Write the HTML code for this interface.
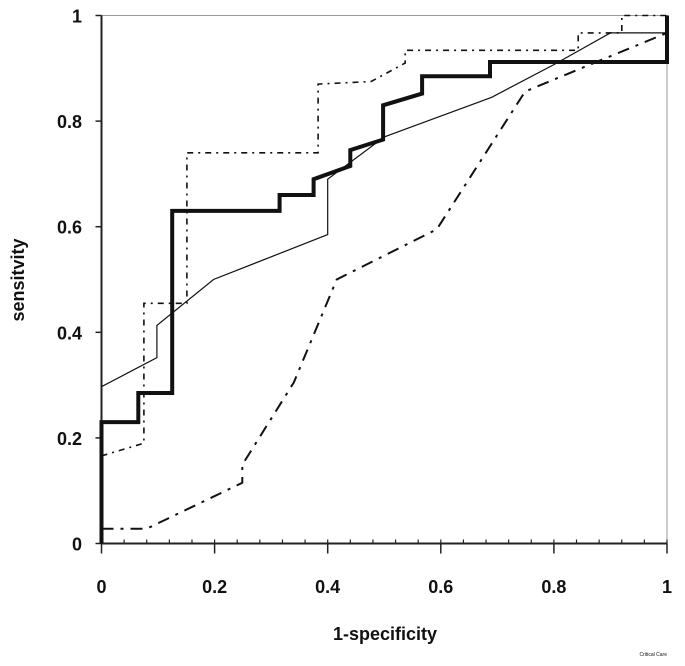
<!DOCTYPE html>
<html><head><meta charset="utf-8"><style>
body{margin:0;background:#fff;}
svg text{font-family:"Liberation Sans",Arial,sans-serif;font-weight:bold;fill:#111;}
</style></head><body>
<svg id="chart" width="685" height="661" viewBox="0 0 685 661" xmlns="http://www.w3.org/2000/svg">
<g id="axes"></g>
<g id="series"></g>
<text x="0" y="0" font-size="18" text-anchor="middle" transform="translate(24,280) rotate(-90)">sensitvity</text>
<text x="385" y="640" font-size="18" text-anchor="middle">1-specificity</text>
<text x="667" y="656" font-size="5" text-anchor="end" style="font-weight:normal">Critical Care</text>
</svg>
<script>
const ticks = [0, 0.2, 0.4, 0.6, 0.8, 1];
const tickLabels = ["0", "0.2", "0.4", "0.6", "0.8", "1"];
const thickX = [0, 0, 0.065, 0.065, 0.125, 0.125, 0.315, 0.315, 0.375, 0.375, 0.44, 0.44, 0.498, 0.498, 0.567, 0.567, 0.687, 0.687, 1, 1];
const thickY = [0, 0.23, 0.23, 0.285, 0.285, 0.63, 0.63, 0.66, 0.66, 0.69, 0.715, 0.745, 0.765, 0.83, 0.852, 0.885, 0.885, 0.912, 0.912, 1];
const thinX = [0, 0.098, 0.098, 0.198, 0.4, 0.4, 0.5, 0.69, 0.8, 0.9, 1, 1];
const thinY = [0.297, 0.352, 0.413, 0.5, 0.585, 0.69, 0.77, 0.845, 0.907, 0.967, 0.967, 1];
const dotX = [0, 0.075, 0.075, 0.151, 0.151, 0.383, 0.383, 0.477, 0.537, 0.537, 0.843, 0.843, 0.92, 0.92, 1];
const dotY = [0.166, 0.19, 0.455, 0.455, 0.74, 0.74, 0.87, 0.875, 0.91, 0.934, 0.934, 0.967, 0.967, 1, 1];
const dashX = [0, 0.08, 0.249, 0.249, 0.34, 0.416, 0.593, 0.749, 0.864, 1];
const dashY = [0.028, 0.028, 0.115, 0.149, 0.305, 0.5, 0.595, 0.856, 0.907, 0.967];

const X0 = 101.5, X1 = 667, Y0 = 543.5, Y1 = 15.5;
const sx = v => X0 + v * (X1 - X0);
const sy = v => Y0 - v * (Y0 - Y1);
const NS = "http://www.w3.org/2000/svg";
const axes = document.getElementById('axes');
const series = document.getElementById('series');
function mk(tag, attrs, parent) {
  const e = document.createElementNS(NS, tag);
  for (const k in attrs) e.setAttribute(k, attrs[k]);
  parent.appendChild(e);
  return e;
}
const frame = mk('rect', {x: X0, y: Y1, width: X1 - X0, height: Y0 - Y1, fill: 'none', stroke: '#999', 'stroke-width': 1}, axes);


const xa = mk('line', {x1: X0, y1: Y0, x2: X1, y2: Y0, stroke: '#222', 'stroke-width': 2}, axes);


const ya = mk('line', {x1: X0, y1: Y0, x2: X0, y2: Y1, stroke: '#222', 'stroke-width': 2}, axes);


for (let i = 0; i <= 25; i++) {
  const v = i * 0.04;
  const t = mk('line', {x1: sx(v), y1: Y0 - 4, x2: sx(v), y2: Y0, stroke: '#222', 'stroke-width': 1.2}, axes);
  
  
}
ticks.forEach((v, i) => {
  const t = mk('line', {x1: sx(v), y1: Y0, x2: sx(v), y2: Y0 + 10, stroke: '#222', 'stroke-width': 1.5}, axes);
  
  
  const l = mk('text', {x: sx(v), y: 593, 'font-size': 18, 'text-anchor': 'middle'}, axes);
  l.textContent = tickLabels[i];
  
  
  const t2 = mk('line', {x1: X0 - 6, y1: sy(v), x2: X0, y2: sy(v), stroke: '#222', 'stroke-width': 1.5}, axes);
  
  
  const l2 = mk('text', {x: 82, y: sy(v) + 7, 'font-size': 18, 'text-anchor': 'end'}, axes);
  l2.textContent = tickLabels[i];
  
  
});
function line(xs, ys, style, name) {
  const d = xs.map((x, i) => (i ? 'L' : 'M') + sx(x).toFixed(1) + ' ' + sy(ys[i]).toFixed(1)).join(' ');
  const p = mk('path', Object.assign({d: d, fill: 'none', stroke: '#111'}, style), series);
  
  
}
line(dashX, dashY, {'stroke-width': 2, 'stroke-dasharray': '12 7 3 7'}, 'roc-dash-dot-series');
line(dotX, dotY, {'stroke-width': 1.6, 'stroke-dasharray': '6 5 2 5'}, 'roc-dotted-series');
line(thinX, thinY, {'stroke-width': 1.2}, 'roc-thin-solid-series');
line(thickX, thickY, {'stroke-width': 4}, 'roc-thick-solid-series');
</script>
</body></html>
